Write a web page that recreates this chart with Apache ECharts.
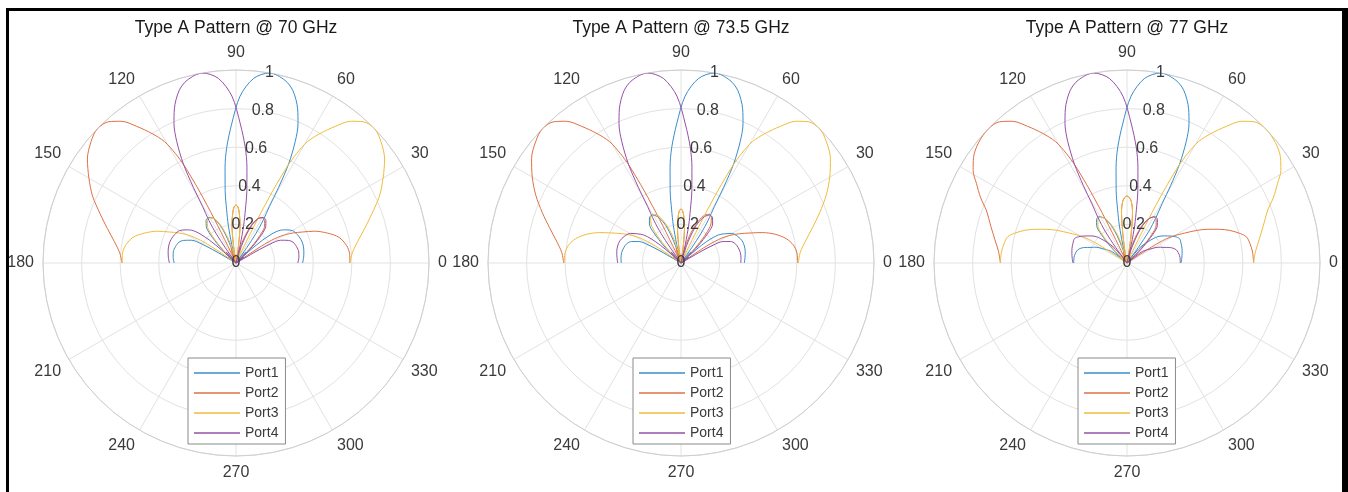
<!DOCTYPE html>
<html>
<head>
<meta charset="utf-8">
<script src="https://cdn.jsdelivr.net/npm/echarts@6/dist/echarts.min.js"></script>
<style>
html,body{margin:0;padding:0;background:#fff;}
#chart{width:1348px;height:492px;}
</style>
</head>
<body>
<div id="chart"></div>
<script>
// ---------- data: [angle (deg), normalized radius] ----------
const titles = ['Type A Pattern @ 70 GHz', 'Type A Pattern @ 73.5 GHz', 'Type A Pattern @ 77 GHz'];
const portNames = ['Port1', 'Port2', 'Port3', 'Port4'];
const angleTicks = [0, 30, 60, 90, 120, 150, 180, 210, 240, 270, 300, 330];
const radiusTicks = [0, 0.2, 0.4, 0.6, 0.8, 1];

// 70 GHz
const p70_port1 = [[0,0.345],[5,0.352],[10,0.357],[15,0.36],[20,0.358],[25,0.35],[29.7,0.338],[33,0.315],[35.5,0.295],[37.3,0.275],[39,0.24],[40.8,0.18],[42,0.1],[42.8,0],[45,0.05],[48,0.075],[51,0.05],[53.5,0],[55,0.1],[56,0.185],[57.5,0.26],[59.4,0.34],[60.6,0.45],[62,0.58],[64,0.7],[66,0.79],[68.2,0.86],[71.7,0.94],[75,0.98],[80,1],[84.6,0.96],[88.6,0.865],[91.8,0.72],[94.6,0.6],[96.5,0.5],[98.5,0.38],[100,0.28],[101.5,0.2],[103,0.1],[104.5,0],[107,0.07],[110,0.15],[113,0.215],[117,0.26],[121,0.275],[125,0.27],[129,0.245],[132,0.2],[135,0.12],[137,0.05],[138,0],[141,0.04],[144,0.05],[147,0.03],[149,0],[150,0.12],[151,0.2],[153,0.26],[156.6,0.295],[160,0.315],[165,0.325],[170,0.33],[175,0.327],[180,0.32]];
const p70_port2 = [[0,0.59],[5,0.59],[9,0.58],[14,0.55],[18,0.5],[22,0.44],[25,0.38],[28,0.33],[31,0.27],[33,0.2],[34,0.1],[34.5,0],[36.5,0.03],[39,0.045],[41,0.03],[43.5,0],[44.5,0.04],[46.5,0.12],[49,0.19],[52,0.24],[56,0.265],[60,0.27],[64,0.255],[68,0.21],[72,0.14],[76,0.06],[80,0],[82,0.1],[84,0.2],[86.2,0.258],[88,0.29],[90,0.3],[92,0.29],[93.8,0.258],[96,0.2],[98,0.1],[100,0],[104,0.05],[108,0.08],[112,0.05],[115.2,0],[115.6,0.1],[116.2,0.25],[117,0.42],[118,0.57],[119,0.65],[120.5,0.73],[123,0.8],[126,0.875],[129,0.945],[132,0.985],[136,1],[140,0.98],[145,0.94],[150,0.88],[155,0.82],[160,0.75],[165,0.69],[170,0.64],[175,0.605],[180,0.59]];
const p70_port3 = [[0,0.59],[5,0.605],[10,0.64],[15,0.69],[20,0.75],[25,0.82],[30,0.88],[35,0.94],[40,0.98],[44,1],[48,0.985],[51,0.945],[54,0.875],[57,0.8],[59.5,0.73],[61,0.65],[62,0.57],[63,0.42],[63.8,0.25],[64.4,0.1],[64.8,0],[68,0.05],[72,0.08],[76,0.05],[80,0],[82,0.1],[84,0.2],[86.2,0.258],[88,0.29],[90,0.3],[92,0.29],[93.8,0.258],[96,0.2],[98,0.1],[100,0],[104,0.06],[108,0.14],[112,0.21],[116,0.255],[120,0.27],[124,0.265],[128,0.24],[131,0.19],[133.5,0.12],[135.5,0.04],[136.5,0],[139,0.03],[141,0.045],[143.5,0.03],[145.5,0],[146,0.1],[147,0.2],[149,0.27],[152,0.33],[155,0.38],[158,0.44],[162,0.5],[166,0.55],[171,0.58],[175,0.59],[180,0.59]];
const p70_port4 = [[0,0.32],[5,0.327],[10,0.33],[15,0.325],[20,0.315],[23.4,0.295],[27,0.26],[29,0.2],[30,0.12],[31,0],[33,0.03],[36,0.05],[39,0.04],[42,0],[43,0.05],[45,0.12],[48,0.2],[51,0.245],[55,0.27],[59,0.275],[63,0.26],[67,0.215],[70,0.15],[73,0.07],[75.5,0],[77,0.1],[78.5,0.2],[80,0.28],[81.5,0.38],[83.5,0.5],[85.4,0.6],[88.2,0.72],[91.4,0.865],[95.4,0.96],[100,1],[105,0.98],[108.3,0.94],[111.8,0.86],[114,0.79],[116,0.7],[118,0.58],[119.4,0.45],[120.6,0.34],[122.5,0.26],[124,0.185],[125,0.1],[126.5,0],[129,0.05],[132,0.075],[135,0.05],[137.2,0],[138,0.1],[139.2,0.18],[141,0.24],[142.7,0.275],[144.5,0.295],[147,0.315],[150.3,0.338],[155,0.35],[160,0.358],[165,0.36],[170,0.357],[175,0.352],[180,0.345]];

// 73.5 GHz
const p73_port1 = [[0,0.328],[5,0.333],[10,0.338],[15,0.34],[20,0.337],[25,0.325],[30.3,0.304],[34,0.27],[36.9,0.242],[39,0.2],[40.8,0.14],[42,0.07],[42.8,0],[45,0.05],[48,0.075],[51,0.05],[53.5,0],[55,0.1],[56,0.185],[57.5,0.26],[59.4,0.34],[60.6,0.45],[62,0.58],[64,0.7],[66,0.79],[68.2,0.86],[71.7,0.94],[75,0.98],[80,1],[84.6,0.96],[88.6,0.865],[91.8,0.72],[94.6,0.6],[96.5,0.5],[98.5,0.38],[100,0.28],[101.5,0.2],[103,0.1],[104.5,0],[107,0.075],[110,0.16],[113,0.225],[117,0.27],[121,0.29],[125,0.285],[129,0.26],[132,0.21],[135,0.125],[137,0.05],[138,0],[141,0.04],[144,0.05],[147,0.03],[149,0],[150,0.12],[151,0.19],[153,0.245],[156.6,0.28],[160,0.297],[165,0.307],[170,0.312],[175,0.312],[180,0.31]];
const p73_port2 = [[0,0.605],[5,0.603],[9,0.59],[13,0.56],[17,0.51],[20.5,0.45],[23.5,0.39],[26.5,0.34],[29.5,0.29],[32,0.23],[33.8,0.14],[35,0],[37,0.03],[39.5,0.045],[41.5,0.03],[44,0],[45,0.045],[47,0.125],[49.5,0.2],[52.5,0.255],[56.5,0.285],[60.5,0.29],[64.5,0.27],[68.5,0.22],[72.5,0.15],[76.5,0.06],[80.5,0],[82.5,0.1],[84.5,0.19],[86.5,0.24],[88,0.268],[90,0.28],[92,0.268],[93.5,0.24],[95.5,0.19],[97.5,0.1],[99.5,0],[104,0.05],[108,0.08],[112,0.05],[115.2,0],[115.6,0.1],[116.2,0.25],[117,0.42],[118,0.57],[119,0.65],[120.5,0.73],[123,0.8],[126,0.875],[129,0.945],[132,0.985],[136,1],[140,0.982],[145,0.945],[150,0.89],[155,0.83],[160,0.765],[165,0.705],[170,0.655],[175,0.62],[180,0.608]];
const p73_port3 = [[0,0.608],[5,0.62],[10,0.655],[15,0.705],[20,0.765],[25,0.83],[30,0.89],[35,0.945],[40,0.982],[44,1],[48,0.985],[51,0.945],[54,0.875],[57,0.8],[59.5,0.73],[61,0.65],[62,0.57],[63,0.42],[63.8,0.25],[64.4,0.1],[64.8,0],[68,0.05],[72,0.08],[76,0.05],[80.5,0],[82.5,0.1],[84.5,0.19],[86.5,0.24],[88,0.268],[90,0.28],[92,0.268],[93.5,0.24],[95.5,0.19],[97.5,0.1],[99.5,0],[103.5,0.06],[107.5,0.15],[111.5,0.22],[115.5,0.27],[119.5,0.29],[123.5,0.285],[127.5,0.255],[130.5,0.2],[133,0.125],[135,0.045],[136,0],[138.5,0.03],[140.5,0.045],[143,0.03],[145,0],[146.2,0.14],[148,0.23],[150.5,0.29],[153.5,0.34],[156.5,0.39],[159.5,0.45],[163,0.51],[167,0.56],[171,0.59],[175,0.603],[180,0.605]];
const p73_port4 = [[0,0.31],[5,0.312],[10,0.312],[15,0.307],[20,0.297],[23.4,0.28],[27,0.245],[29,0.19],[30,0.12],[31,0],[33,0.03],[36,0.05],[39,0.04],[42,0],[43,0.05],[45,0.125],[48,0.21],[51,0.26],[55,0.285],[59,0.29],[63,0.27],[67,0.225],[70,0.16],[73,0.075],[75.5,0],[77,0.1],[78.5,0.2],[80,0.28],[81.5,0.38],[83.5,0.5],[85.4,0.6],[88.2,0.72],[91.4,0.865],[95.4,0.96],[100,1],[105,0.98],[108.3,0.94],[111.8,0.86],[114,0.79],[116,0.7],[118,0.58],[119.4,0.45],[120.6,0.34],[122.5,0.26],[124,0.185],[125,0.1],[126.5,0],[129,0.05],[132,0.075],[135,0.05],[137.2,0],[138,0.07],[139.2,0.14],[141,0.2],[143.1,0.242],[146,0.27],[149.7,0.304],[155,0.325],[160,0.337],[165,0.34],[170,0.338],[175,0.333],[180,0.328]];

// 77 GHz
const p77_port1 = [[0,0.28],[5,0.285],[10,0.29],[15,0.295],[20,0.298],[25,0.3],[28.5,0.285],[31.5,0.267],[36,0.239],[40.6,0.21],[45,0.16],[49.4,0.111],[51.5,0.05],[52.5,0],[54,0.1],[55.5,0.2],[57.5,0.28],[59.4,0.36],[60.6,0.46],[62,0.58],[64,0.7],[66,0.79],[68.2,0.86],[71.7,0.94],[75,0.98],[80,1],[84.6,0.96],[88.6,0.865],[91.8,0.72],[94.6,0.6],[96.5,0.5],[98.5,0.38],[100,0.28],[101.5,0.2],[103,0.1],[104.5,0],[107,0.07],[110,0.15],[113,0.215],[117,0.26],[121,0.28],[125,0.275],[129,0.25],[132,0.2],[135,0.12],[137.5,0.06],[139,0.03],[140.5,0],[141.5,0.06],[143,0.1],[146,0.12],[150,0.15],[153,0.18],[156.5,0.203],[160,0.235],[165,0.264],[172,0.275],[176,0.276],[180,0.276]];
const p77_port2 = [[0,0.656],[5,0.653],[9,0.645],[12.4,0.633],[15,0.6],[17.8,0.555],[20,0.51],[22.6,0.455],[25,0.4],[27.5,0.335],[30.5,0.27],[32.5,0.2],[33.5,0.1],[34,0],[36.5,0.03],[39,0.045],[41,0.03],[43.5,0],[44.5,0.04],[46.5,0.125],[49,0.195],[52,0.245],[56,0.27],[60,0.275],[64,0.255],[68,0.21],[72,0.14],[75.5,0.06],[79,0],[80.5,0.08],[82,0.16],[83.9,0.27],[86,0.32],[88,0.34],[90,0.347],[92,0.34],[94,0.32],[96.1,0.27],[98,0.16],[99.5,0.08],[101,0],[104.5,0.04],[108,0.06],[112,0.04],[115.2,0],[115.6,0.1],[116.2,0.25],[117,0.42],[118,0.57],[119,0.65],[120.5,0.73],[123,0.8],[126,0.875],[129,0.945],[132,0.985],[136,1],[141,0.99],[145.5,0.965],[149,0.93],[152.1,0.883],[156,0.83],[159.4,0.779],[165,0.73],[170,0.695],[175,0.668],[180,0.656]];
const p77_port3 = [[0,0.656],[5,0.668],[10,0.695],[15,0.73],[20.6,0.779],[24,0.83],[27.9,0.883],[31,0.93],[34.5,0.965],[39,0.99],[44,1],[48,0.985],[51,0.945],[54,0.875],[57,0.8],[59.5,0.73],[61,0.65],[62,0.57],[63,0.42],[63.8,0.25],[64.4,0.1],[64.8,0],[68,0.04],[72,0.06],[75.5,0.04],[79,0],[80.5,0.08],[82,0.16],[83.9,0.27],[86,0.32],[88,0.34],[90,0.347],[92,0.34],[94,0.32],[96.1,0.27],[98,0.16],[99.5,0.08],[101,0],[104.5,0.06],[108,0.14],[112,0.21],[116,0.255],[120,0.275],[124,0.27],[128,0.245],[131,0.195],[133.5,0.125],[135.5,0.04],[136.5,0],[139,0.03],[141,0.045],[143.5,0.03],[146,0],[146.5,0.1],[147.5,0.2],[149.5,0.27],[152.5,0.335],[155,0.4],[157.4,0.455],[160,0.51],[162.2,0.555],[165,0.6],[167.6,0.633],[171,0.645],[175,0.653],[180,0.656]];
const p77_port4 = [[0,0.276],[4,0.276],[8,0.275],[15,0.264],[20,0.235],[23.5,0.203],[27,0.18],[30,0.15],[34,0.12],[37,0.1],[38.5,0.06],[39.5,0],[41,0.03],[42.5,0.06],[45,0.12],[48,0.2],[51,0.25],[55,0.275],[59,0.28],[63,0.26],[67,0.215],[70,0.15],[73,0.07],[75.5,0],[77,0.1],[78.5,0.2],[80,0.28],[81.5,0.38],[83.5,0.5],[85.4,0.6],[88.2,0.72],[91.4,0.865],[95.4,0.96],[100,1],[105,0.98],[108.3,0.94],[111.8,0.86],[114,0.79],[116,0.7],[118,0.58],[119.4,0.46],[120.6,0.36],[122.5,0.28],[124.5,0.2],[126,0.1],[127.5,0],[128.5,0.05],[130.6,0.111],[135,0.16],[139.4,0.21],[144,0.239],[148.5,0.267],[151.5,0.285],[155,0.3],[160,0.298],[165,0.295],[170,0.29],[175,0.285],[180,0.28]];

const plotPorts = [
  [p70_port1, p70_port2, p70_port3, p70_port4],
  [p73_port1, p73_port2, p73_port3, p73_port4],
  [p77_port1, p77_port2, p77_port3, p77_port4]
];

// ---------- layout & style ----------
const FONT = '"Liberation Sans", Arial, Helvetica, sans-serif';
const colors = ['#3a8cca', '#de7042', '#efbc3a', '#9450a6'];
const centers = [[236, 263], [681, 263], [1127, 263]];
const R = 193;
const gridColor = '#e2e2e2';
const labelColor = '#3a3a3a';

const polar = [];
const angleAxis = [];
const radiusAxis = [];
// main polar systems
centers.forEach((c, i) => {
  polar.push({ center: c, radius: R });
  angleAxis.push({
    polarIndex: i, type: 'value', min: 0, max: 360, interval: 30,
    startAngle: 0, clockwise: false,
    axisLine: { show: true, lineStyle: { color: '#cfcfcf', width: 1 } },
    axisTick: { show: false },
    axisLabel: {
      show: true, margin: 9, fontSize: 16, color: labelColor, fontFamily: FONT,
      formatter: v => (angleTicks.indexOf(v) >= 0 ? String(v) : '')
    },
    splitLine: { show: true, lineStyle: { color: gridColor, width: 1 } }
  });
  radiusAxis.push({
    polarIndex: i, type: 'value', min: 0, max: 1, interval: 0.2,
    axisLine: { show: false }, axisTick: { show: false }, axisLabel: { show: false },
    splitLine: { show: true, lineStyle: { color: gridColor, width: 1 } }
  });
});
// overlay polar systems carrying the r-tick labels along the 80 degree ray
centers.forEach((c, i) => {
  const k = i + 3;
  polar.push({ center: c, radius: R });
  angleAxis.push({ polarIndex: k, type: 'value', min: 0, max: 360, startAngle: 80, clockwise: false, show: false });
  radiusAxis.push({
    polarIndex: k, type: 'value', min: 0, max: 1, interval: 0.2, z: 10,
    axisLine: { show: false }, axisTick: { show: false }, splitLine: { show: false },
    axisLabel: {
      show: true, margin: 0, align: 'center', verticalAlign: 'middle', rotate: 0,
      fontSize: 16, color: labelColor, fontFamily: FONT,
      formatter: v => (radiusTicks.some(t => Math.abs(t - v) < 1e-9) ? String(+v.toFixed(1)) : '')
    }
  });
});

const series = [];
plotPorts.forEach((ports, i) => {
  ports.forEach((pts, j) => {
    series.push({
      name: portNames[j], type: 'line', coordinateSystem: 'polar', polarIndex: i,
      data: pts.map(p => [p[1], p[0]]),
      showSymbol: false, symbol: 'none', smooth: 0.3,
      lineStyle: { width: 1, color: colors[j] },
      itemStyle: { color: colors[j] },
      silent: true, animation: false, z: 3
    });
  });
});

const legendLefts = [188, 633, 1078];
const legend = legendLefts.map(l => ({
  data: portNames, orient: 'vertical', left: l, top: 358,
  icon: 'rect', itemWidth: 46, itemHeight: 1.5, itemGap: 6,
  padding: [8, 7, 4, 6], selectedMode: false,
  backgroundColor: '#ffffff', borderColor: '#8a8a8a', borderWidth: 1,
  textStyle: { fontSize: 14, color: labelColor, fontFamily: FONT },
  z: 20
}));

const title = titles.map((t, i) => ({
  text: t, left: centers[i][0], top: 19, textAlign: 'center', padding: 0,
  textStyle: { fontSize: 17.5, fontWeight: 'normal', color: '#1a1a1a', fontFamily: FONT }
}));

const chart = echarts.init(document.getElementById('chart'), null, { renderer: 'canvas' });
chart.setOption({
  backgroundColor: '#ffffff',
  animation: false,
  title, legend, polar, angleAxis, radiusAxis, series,
  graphic: [
    { type: 'rect', silent: true, z: 100, shape: { x: 7.5, y: 9.5, width: 1337, height: 500 },
      style: { fill: 'none', stroke: '#000', lineWidth: 3 } },
    { type: 'rect', silent: true, z: 100, shape: { x: 1342, y: 8, width: 6, height: 484 },
      style: { fill: '#000' } }
  ]
});
</script>
</body>
</html>
